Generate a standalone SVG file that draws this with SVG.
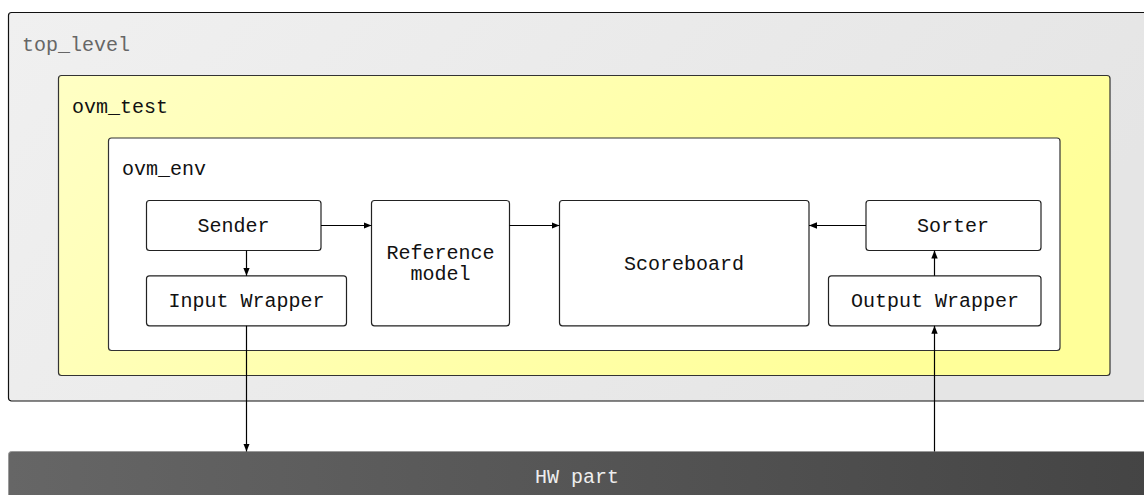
<svg xmlns="http://www.w3.org/2000/svg" width="1144" height="495" viewBox="0 0 1144 495">
  <style>
    text { font-family: "Liberation Mono", "DejaVu Sans Mono", monospace; font-size: 20px; fill: #111; }
    .box { fill: #ffffff; stroke: #222; stroke-width: 1.2; }
    .lbl { text-anchor: middle; }
    .wire { stroke: #000; stroke-width: 1.2; fill: none; marker-end: url(#arrow); }
  </style>
  <defs>
    <linearGradient id="gTop" x1="0" y1="0" x2="1" y2="0.3">
      <stop offset="0" stop-color="#f0f0f0"/>
      <stop offset="1" stop-color="#e5e5e5"/>
    </linearGradient>
    <linearGradient id="gTest" x1="0" y1="0" x2="1" y2="0.3">
      <stop offset="0" stop-color="#ffffc4"/>
      <stop offset="1" stop-color="#ffff99"/>
    </linearGradient>
    <linearGradient id="gHw" x1="0" y1="0" x2="1" y2="0">
      <stop offset="0" stop-color="#666666"/>
      <stop offset="1" stop-color="#444444"/>
    </linearGradient>
    <marker id="arrow" viewBox="0 0 10 10" refX="10" refY="5" markerWidth="8" markerHeight="8" markerUnits="userSpaceOnUse" orient="auto">
      <path d="M0,1 L10,5 L0,9 z" fill="#000"/>
    </marker>
  </defs>

  <!-- containers -->
  <g id="top_level">
    <rect x="8.5" y="12.5" width="1150" height="388.5" rx="3" fill="url(#gTop)" stroke="#111" stroke-width="1.2"/>
    <text x="22" y="51" style="fill:#666">top_level</text>
  </g>
  <g id="ovm_test">
    <rect x="58.5" y="75.5" width="1051.5" height="300" rx="3" fill="url(#gTest)" stroke="#333" stroke-width="1.2"/>
    <text x="72" y="113">ovm_test</text>
  </g>
  <g id="ovm_env">
    <rect x="108.5" y="138" width="951.5" height="212.5" rx="3" fill="#ffffff" stroke="#333" stroke-width="1.2"/>
    <text x="122" y="175">ovm_env</text>
  </g>

  <!-- components -->
  <g id="sender">
    <rect class="box" x="146.5" y="200.5" width="174.5" height="50" rx="3"/>
    <text class="lbl" x="233.5" y="232">Sender</text>
  </g>
  <g id="input_wrapper">
    <rect class="box" x="146.5" y="275.8" width="200" height="50" rx="3"/>
    <text class="lbl" x="246.5" y="307">Input Wrapper</text>
  </g>
  <g id="reference_model">
    <rect class="box" x="371.5" y="200.5" width="138" height="125.3" rx="3"/>
    <text class="lbl" x="440.5" y="258.5">Reference</text>
    <text class="lbl" x="440.5" y="280">model</text>
  </g>
  <g id="scoreboard">
    <rect class="box" x="559.5" y="200.5" width="249.5" height="125.3" rx="3"/>
    <text class="lbl" x="684" y="270">Scoreboard</text>
  </g>
  <g id="sorter">
    <rect class="box" x="866" y="200.5" width="175" height="50" rx="3"/>
    <text class="lbl" x="953" y="232">Sorter</text>
  </g>
  <g id="output_wrapper">
    <rect class="box" x="828.5" y="275.8" width="212.5" height="50" rx="3"/>
    <text class="lbl" x="935" y="307">Output Wrapper</text>
  </g>
  <g id="hw_part">
    <rect x="8.5" y="451.5" width="1150" height="60" rx="3" fill="url(#gHw)" stroke="#9a9a9a" stroke-width="1"/>
    <text class="lbl" x="577" y="483" style="fill:#eeeeee">HW part</text>
  </g>

  <!-- connectors -->
  <g id="connectors">
    <path class="wire" d="M321,225.5 H371.5"/>
    <path class="wire" d="M509.5,225.5 H559.5"/>
    <path class="wire" d="M866,225.5 H809"/>
    <path class="wire" d="M246.5,250.5 V275.8"/>
    <path class="wire" d="M934.5,275.8 V250.5"/>
    <path class="wire" d="M246.5,325.8 V451.5"/>
    <path class="wire" d="M934.5,451.5 V325.8"/>
  </g>
</svg>
